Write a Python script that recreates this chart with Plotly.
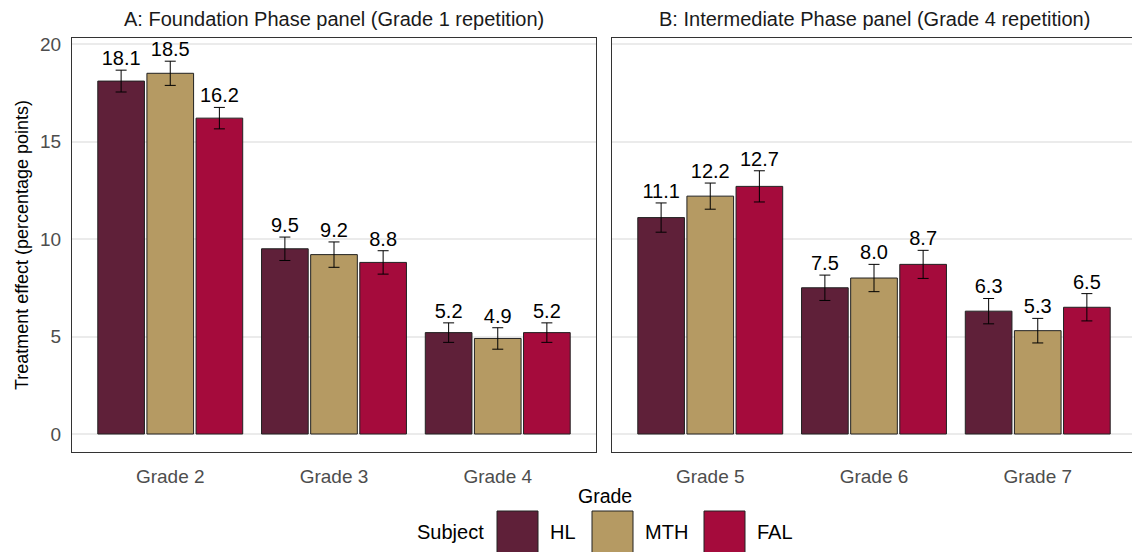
import plotly.graph_objects as go

# Subjects and fill colours
subjects = ["HL", "MTH", "FAL"]
subject_colors = ["#5F2039", "#B59A63", "#A50B3C"]

# Panel A: Foundation Phase (Grade 1 repetition)
grades_a = ["Grade 2", "Grade 3", "Grade 4"]
hl_a = [18.1, 9.5, 5.2]
mth_a = [18.5, 9.2, 4.9]
fal_a = [16.2, 8.8, 5.2]
hl_a_ci = [0.56, 0.60, 0.50]
mth_a_ci = [0.62, 0.65, 0.55]
fal_a_ci = [0.55, 0.60, 0.50]

# Panel B: Intermediate Phase (Grade 4 repetition)
grades_b = ["Grade 5", "Grade 6", "Grade 7"]
hl_b = [11.1, 7.5, 6.3]
mth_b = [12.2, 8.0, 5.3]
fal_b = [12.7, 8.7, 6.5]
hl_b_ci = [0.75, 0.65, 0.65]
mth_b_ci = [0.67, 0.70, 0.63]
fal_b_ci = [0.80, 0.72, 0.70]

panel_titles = ["A: Foundation Phase panel (Grade 1 repetition)",
                "B: Intermediate Phase panel (Grade 4 repetition)"]

FONT = "Liberation Sans"
W, H = 1132, 552
ML, MR, MT, MB = 72, 0, 38, 100


def px_x(px):
    return (px - ML) / (W - ML - MR)


def px_y(py):
    return (H - MB - py) / (H - MT - MB)


fig = go.Figure()

panels = [
    ("x", "y", grades_a, [hl_a, mth_a, fal_a], [hl_a_ci, mth_a_ci, fal_a_ci]),
    ("x2", "y2", grades_b, [hl_b, mth_b, fal_b], [hl_b_ci, mth_b_ci, fal_b_ci]),
]

for xa, ya, grades, series, cis in panels:
    for subj, col, vals, ci in zip(subjects, subject_colors, series, cis):
        fig.add_trace(go.Bar(
            x=grades, y=vals, name=subj, xaxis=xa, yaxis=ya,
            marker=dict(color=col, line=dict(color="#222222", width=1)),
            error_y=dict(type="data", array=ci, visible=True,
                         color="black", thickness=1, width=5.5),
            offsetgroup=subj, showlegend=False, hoverinfo="skip",
        ))
    for subj, vals, ci in zip(subjects, series, cis):
        fig.add_trace(go.Scatter(
            x=grades, y=[v + c for v, c in zip(vals, ci)],
            mode="text", text=[f"{v:.1f}" for v in vals],
            textposition="top center",
            textfont=dict(family=FONT, size=20, color="black"),
            xaxis=xa, yaxis=ya, offsetgroup=subj,
            showlegend=False, hoverinfo="skip",
        ))

yrange = [-0.923, 20.31]
axis_font = dict(family=FONT, size=19, color="#4D4D4D")

fig.update_layout(
    width=W, height=H,
    margin=dict(l=ML, r=MR, t=MT, b=MB),
    paper_bgcolor="white", plot_bgcolor="white",
    barmode="group", bargap=0.1, bargroupgap=0.05,
    scattermode="group", scattergap=0.1,
    showlegend=False,
    font=dict(family=FONT, color="black"),
    xaxis=dict(domain=[0, px_x(596)], range=[-0.6, 2.6],
               showgrid=False, showline=True, mirror=True,
               linecolor="#333333", linewidth=1, ticks="",
               tickfont=axis_font, ticklabelstandoff=7),
    xaxis2=dict(domain=[px_x(612), 1], range=[-0.6, 2.6 - 4 / 163.75],
                anchor="y2", showgrid=False, showline=True, mirror=True,
                linecolor="#333333", linewidth=1, ticks="",
                tickfont=axis_font, ticklabelstandoff=7),
    yaxis=dict(range=yrange, tickvals=[0, 5, 10, 15, 20],
               showgrid=True, gridcolor="#EBEBEB", gridwidth=1.5,
               zeroline=False, showline=True, mirror=True,
               linecolor="#333333", linewidth=1, ticks="",
               tickfont=axis_font, ticklabelstandoff=6,
               title=dict(text="Treatment effect (percentage points)",
                          font=dict(family=FONT, size=18, color="black"),
                          standoff=6)),
    yaxis2=dict(range=yrange, tickvals=[0, 5, 10, 15, 20], anchor="x2",
                showgrid=True, gridcolor="#EBEBEB", gridwidth=1.5,
                zeroline=False, showline=True, mirror=False,
                linecolor="#333333", linewidth=1, ticks="",
                showticklabels=False),
)

# Facet strip titles
for title, cx in zip(panel_titles, [334, 874]):
    fig.add_annotation(text=title, xref="paper", yref="paper",
                       x=px_x(cx), y=px_y(19), xanchor="center", yanchor="middle",
                       showarrow=False,
                       font=dict(family=FONT, size=20, color="#1A1A1A"))

# Shared x-axis title
fig.add_annotation(text="Grade", xref="paper", yref="paper",
                   x=px_x(605), y=px_y(496), xanchor="center", yanchor="middle",
                   showarrow=False, font=dict(family=FONT, size=19.5, color="black"))

# Legend drawn beneath the panels
fig.add_annotation(text="Subject", xref="paper", yref="paper",
                   x=px_x(450), y=px_y(532), xanchor="center", yanchor="middle",
                   showarrow=False, font=dict(family=FONT, size=20, color="black"))
key_lefts = [497, 592, 704]
for subj, col, kx in zip(subjects, subject_colors, key_lefts):
    fig.add_shape(type="rect", xref="paper", yref="paper",
                  x0=px_x(kx), x1=px_x(kx + 41), y0=px_y(511), y1=px_y(553),
                  fillcolor=col, line=dict(color="#222222", width=1))
    fig.add_annotation(text=subj, xref="paper", yref="paper",
                       x=px_x(kx + 51), y=px_y(532), xanchor="left", yanchor="middle",
                       showarrow=False, font=dict(family=FONT, size=20, color="black"))

fig.write_html("out.html")
